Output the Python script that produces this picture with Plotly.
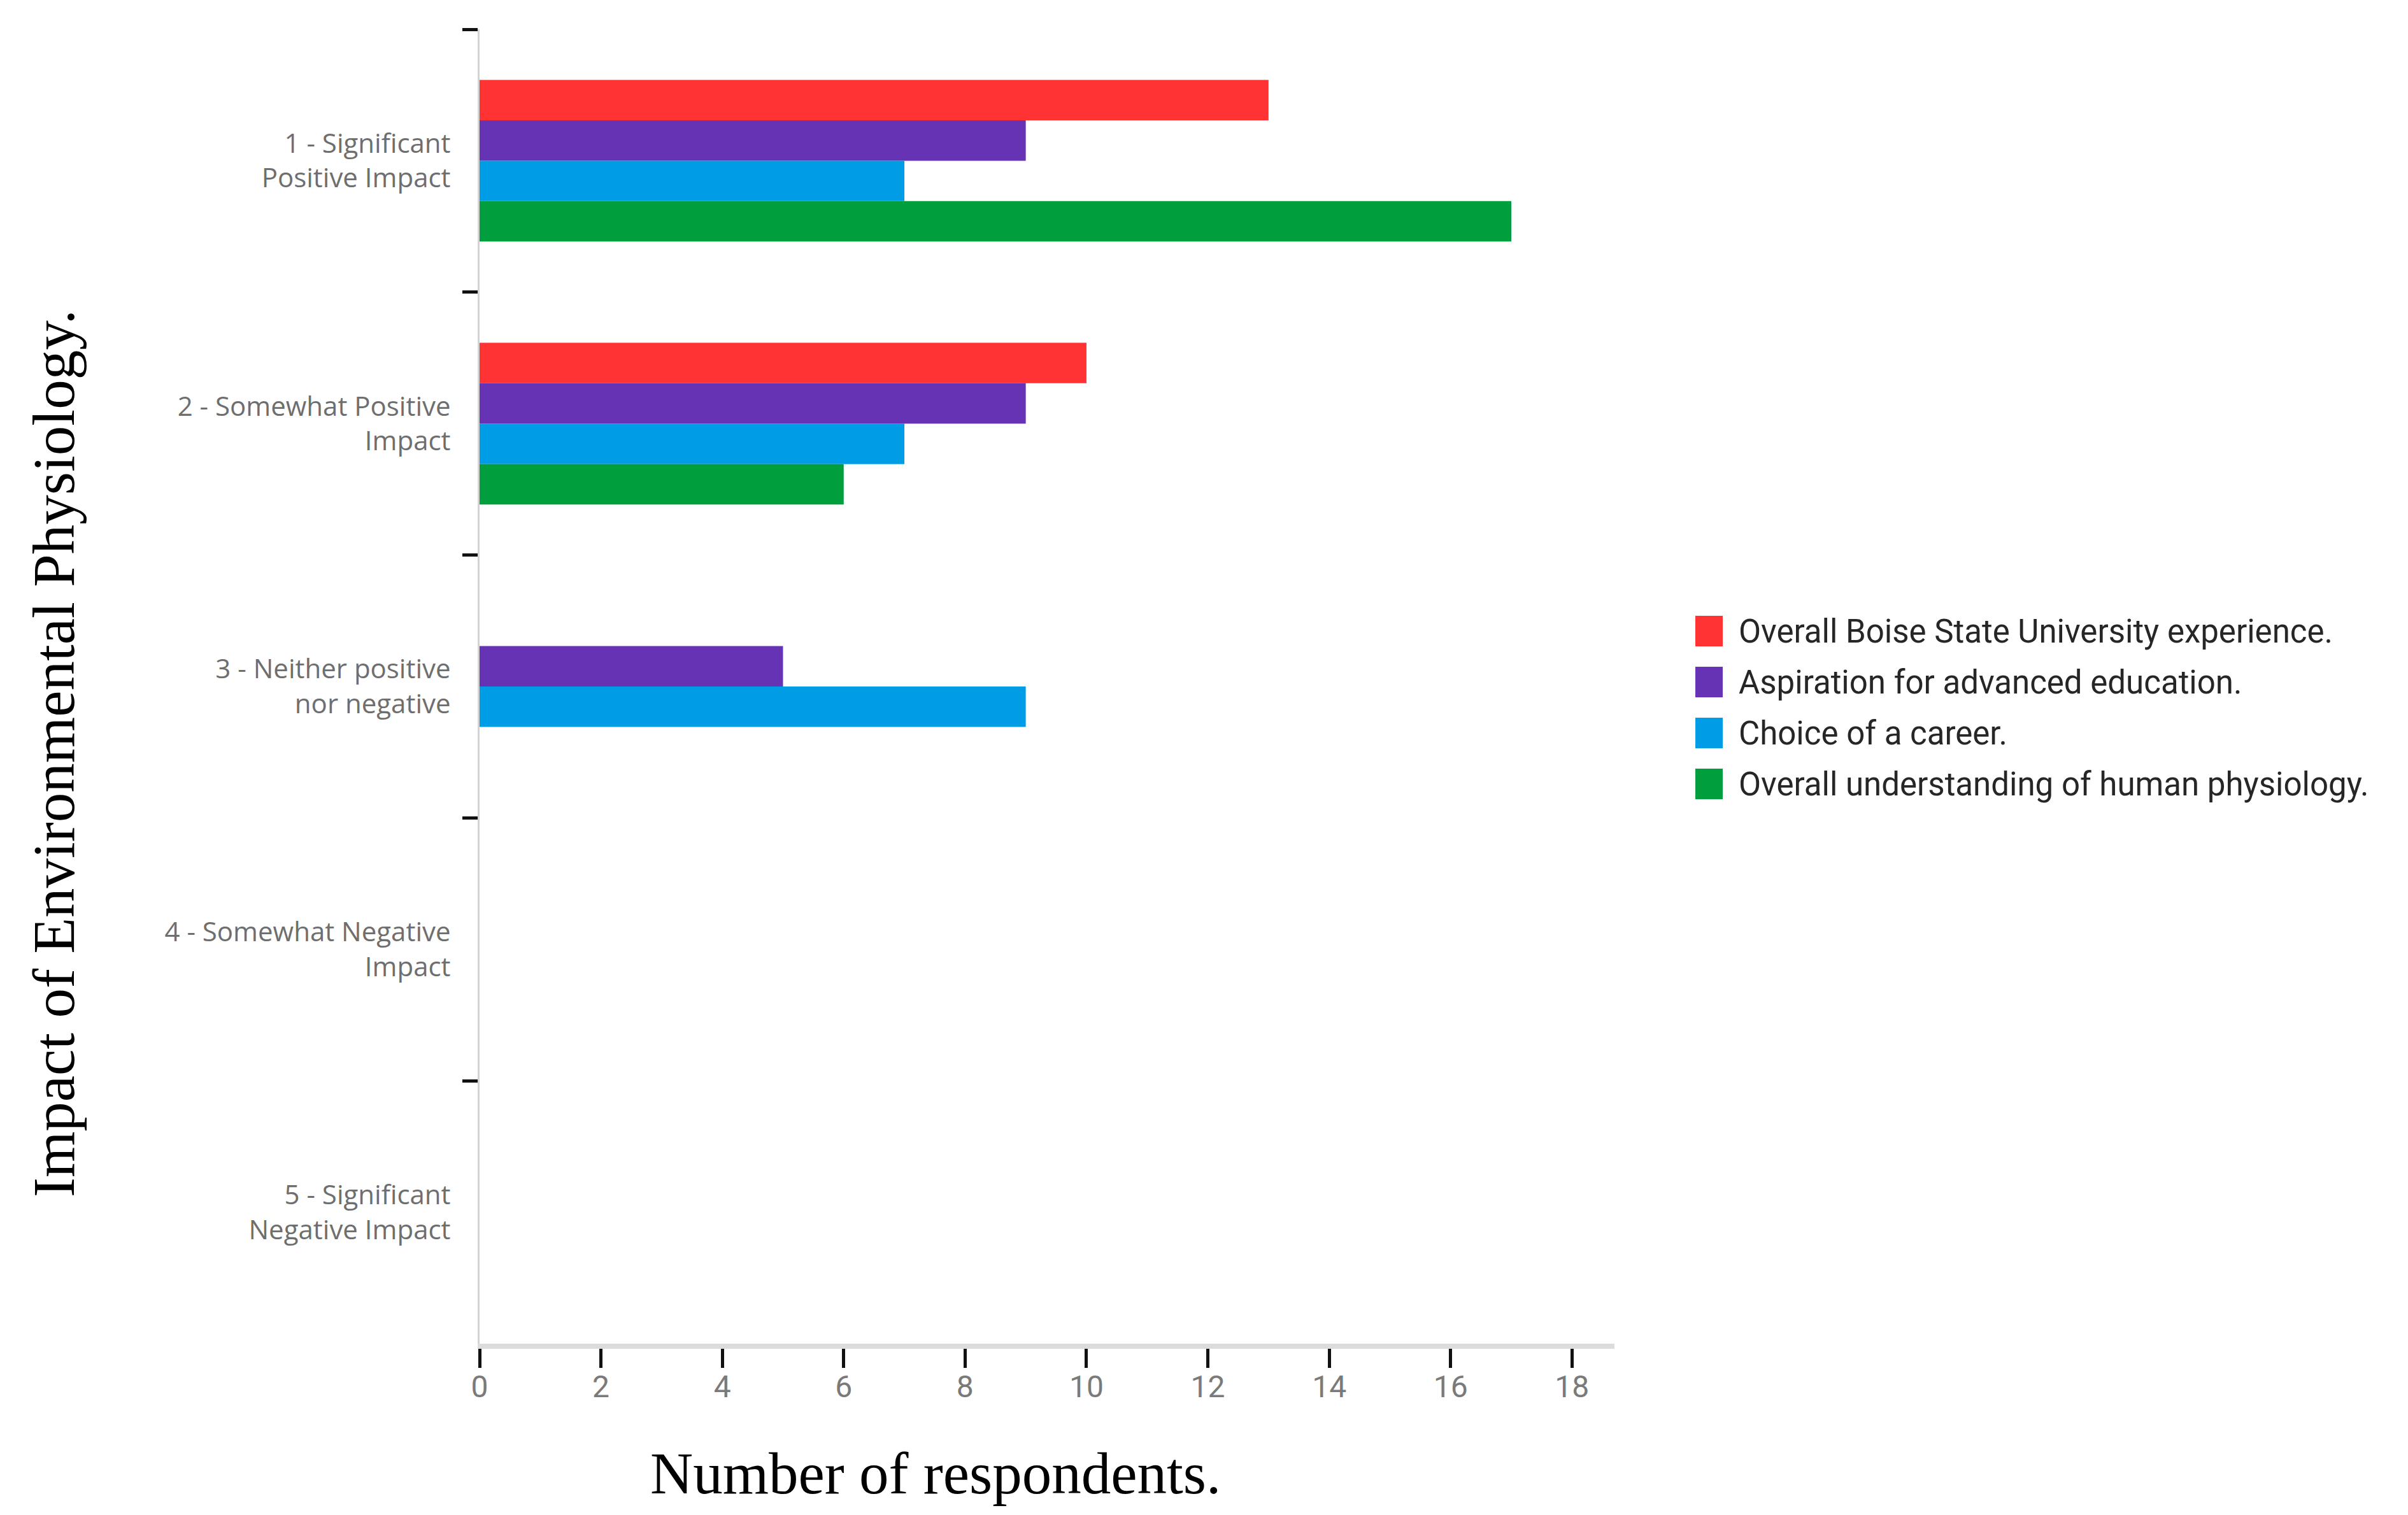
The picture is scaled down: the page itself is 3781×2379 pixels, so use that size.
import plotly.graph_objects as go

categories = [
    "1 - Significant<br>Positive Impact",
    "2 - Somewhat Positive<br>Impact",
    "3 - Neither positive<br>nor negative",
    "4 - Somewhat Negative<br>Impact",
    "5 - Significant<br>Negative Impact",
]
series_names = [
    "Overall Boise State University experience.",
    "Aspiration for advanced education.",
    "Choice of a career.",
    "Overall understanding of human physiology.",
]
overall_experience = [13, 10, 0, 0, 0]
aspiration_education = [9, 9, 5, 0, 0]
career_choice = [7, 7, 9, 0, 0]
understanding_physiology = [17, 6, 0, 0, 0]
series_values = [overall_experience, aspiration_education, career_choice, understanding_physiology]
colors = ["#FF3333", "#6633B4", "#009CE6", "#009E3D"]
x_ticks = [0, 2, 4, 6, 8, 10, 12, 14, 16, 18]

W, H = 3781, 2379
PL, PR, PT, PB = 745, 2527, 38, 2102


def px_x(p):
    return (p - PL) / (PR - PL)


def px_y(p):
    return (PB - p) / (PB - PT)


fig = go.Figure()
for name, vals, col in zip(series_names, series_values, colors):
    fig.add_trace(go.Bar(
        y=categories, x=vals, name=name, orientation="h",
        marker=dict(color=col, line=dict(width=0)),
        showlegend=False,
    ))

# custom legend (large square swatches)
leg_y = [983, 1063, 1143, 1223]
for name, col, cy in zip(series_names, colors, leg_y):
    fig.add_shape(type="rect", xref="paper", yref="paper",
                  x0=px_x(2654), x1=px_x(2697), y0=px_y(cy + 24), y1=px_y(cy - 24),
                  fillcolor=col, line=dict(width=0))
    fig.add_annotation(xref="paper", yref="paper", x=px_x(2720), y=px_y(cy),
                       xanchor="left", yanchor="middle", showarrow=False,
                       text=name,
                       font=dict(family="Roboto", size=51, color="#262626"))

# axis titles
fig.add_annotation(xref="paper", yref="paper", x=px_x(1461), y=px_y(2305),
                   xanchor="center", yanchor="middle", showarrow=False,
                   text="Number of respondents.",
                   font=dict(family="Liberation Serif", size=93, color="#000000"))
fig.add_annotation(xref="paper", yref="paper", x=px_x(76), y=px_y(1175),
                   xanchor="center", yanchor="middle", showarrow=False, textangle=-90,
                   text="Impact of Environmental Physiology.",
                   font=dict(family="Liberation Serif", size=93, color="#000000"))

fig.update_layout(
    width=W, height=H, autosize=False,
    margin=dict(l=PL, r=W - PR, t=PT, b=H - PB, pad=0),
    paper_bgcolor="white", plot_bgcolor="white",
    barmode="group", bargap=0.385, bargroupgap=0,
)
fig.update_xaxes(
    range=[0, 18.7], tickvals=x_ticks, ticktext=[str(v) for v in x_ticks],
    showgrid=False, zeroline=False,
    showline=True, linecolor="#DCDCDC", linewidth=8,
    ticks="outside", ticklen=30, tickwidth=5, tickcolor="#111111",
    ticklabelstandoff=-12,
    tickfont=dict(family="Roboto", size=48, color="#7a7a7a"),
)
fig.update_yaxes(
    type="category", categoryorder="array", categoryarray=categories,
    autorange="reversed", tickson="boundaries",
    showgrid=False, zeroline=False,
    showline=True, linecolor="#D3D3D3", linewidth=3,
    ticks="outside", ticklen=24, tickwidth=5, tickcolor="#111111",
    ticklabelstandoff=34,
    tickfont=dict(family="Open Sans", size=42, color="#6e6e6e"),
)

fig.write_html("out.html")
